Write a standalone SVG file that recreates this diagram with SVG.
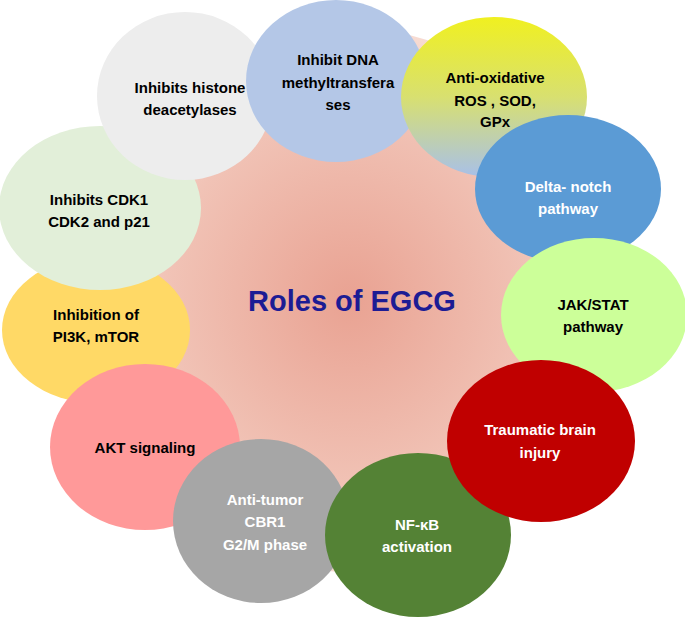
<svg xmlns="http://www.w3.org/2000/svg" width="685" height="617" viewBox="0 0 685 617">
<defs>
<radialGradient id="bg" cx="0.5" cy="0.5" r="0.5"><stop offset="0" stop-color="#e9a292"/><stop offset="0.7" stop-color="#f1c3b6"/><stop offset="1" stop-color="#f7dbd2"/></radialGradient>
<linearGradient id="ox" x1="0" y1="0" x2="0" y2="1"><stop offset="0" stop-color="#f0f020"/><stop offset="0.5" stop-color="#d8e070"/><stop offset="1" stop-color="#a8c0e8"/></linearGradient>
</defs>
<style>
text{font-family:"Liberation Sans Narrow","Liberation Sans",Arial,sans-serif;font-weight:bold;font-size:15px;text-anchor:middle;fill:#000}
.w{fill:#fff}
</style>
<rect width="685" height="617" fill="#fff"/>
<ellipse cx="350" cy="300" rx="262" ry="272" fill="url(#bg)"/>
<g id="pi3k"><ellipse cx="96" cy="330" rx="94" ry="73" fill="#ffd966"/><text x="96" y="320">Inhibition of</text><text x="96" y="342">PI3K, mTOR</text></g>
<g id="cdk"><ellipse cx="100" cy="208" rx="101" ry="82" fill="#e2efd9"/><text x="99" y="205">Inhibits CDK1</text><text x="99" y="227">CDK2 and p21</text></g>
<g id="histone"><ellipse cx="185" cy="96" rx="88" ry="84" fill="#ededed"/><text x="190" y="93">Inhibits histone</text><text x="190" y="115">deacetylases</text></g>
<g id="dna"><ellipse cx="336" cy="81" rx="90" ry="81" fill="#b4c7e7"/><text x="338" y="65">Inhibit DNA</text><text x="338" y="88">methyltransfera</text><text x="338" y="110">ses</text></g>
<g id="antiox"><ellipse cx="494" cy="97" rx="93" ry="80" fill="url(#ox)"/><text x="495" y="83">Anti-oxidative</text><text x="495" y="106">ROS , SOD,</text><text x="495" y="127">GPx</text></g>
<g id="delta"><ellipse cx="568" cy="189" rx="93" ry="74" fill="#5b9bd5"/><text class="w" x="568" y="192">Delta- notch</text><text class="w" x="568" y="214">pathway</text></g>
<g id="jak"><ellipse cx="594" cy="315" rx="93" ry="77" fill="#ccff99"/><text x="593" y="310">JAK/STAT</text><text x="593" y="332">pathway</text></g>
<g id="akt"><ellipse cx="145" cy="447" rx="95" ry="83" fill="#ff9999"/><text x="145" y="453">AKT signaling</text></g>
<g id="antitumor"><ellipse cx="261" cy="521" rx="88" ry="82" fill="#a6a6a6"/><text class="w" x="265" y="505">Anti-tumor</text><text class="w" x="265" y="527">CBR1</text><text class="w" x="265" y="550">G2/M phase</text></g>
<g id="nfkb"><ellipse cx="418" cy="535" rx="93" ry="82" fill="#548235"/><text class="w" x="417" y="530">NF-κB</text><text class="w" x="417" y="552">activation</text></g>
<g id="tbi"><ellipse cx="541" cy="441" rx="94" ry="81" fill="#c00000"/><text class="w" x="540" y="435">Traumatic brain</text><text class="w" x="540" y="458">injury</text></g>
<g id="center"><text x="352" y="311" style="font-size:29px;fill:#1c1c94">Roles of EGCG</text></g>
<g id="connectors"/>
</svg>
